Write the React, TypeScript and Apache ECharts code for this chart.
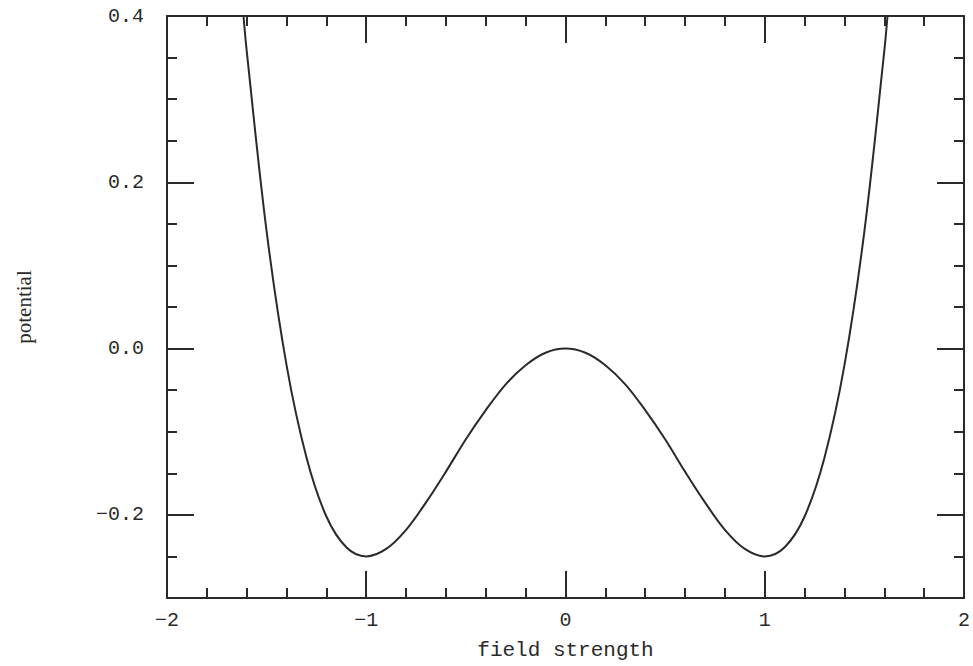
import React, { useEffect, useRef } from "react";
import * as echarts from "echarts";

const fieldStrength = [
  -1.616, -1.6, -1.5, -1.4, -1.3, -1.2, -1.1, -1.0, -0.9, -0.8, -0.7, -0.6, -0.5, -0.4, -0.3, -0.2, -0.1,
  0, 0.1, 0.2, 0.3, 0.4, 0.5, 0.6, 0.7, 0.8, 0.9, 1.0, 1.1, 1.2, 1.3, 1.4, 1.5, 1.6, 1.616,
];
const potential = [
  0.4, 0.358, 0.141, -0.02, -0.131, -0.202, -0.239, -0.25, -0.241, -0.218, -0.185, -0.148, -0.109, -0.074,
  -0.043, -0.02, -0.005, 0, -0.005, -0.02, -0.043, -0.074, -0.109, -0.148, -0.185, -0.218, -0.241, -0.25,
  -0.239, -0.202, -0.131, -0.02, 0.141, 0.358, 0.4,
];
const xTickLabels = ["−2", "−1", "0", "1", "2"];
const yMajorTicks = [-0.2, 0, 0.2, 0.4];
const yTickLabels = ["−0.2", "0.0", "0.2", "0.4"];

const MONO = "Liberation Mono";
const SERIF = "Liberation Serif";
const INK = "#2a2a2a";

export default function App() {
  const ref = useRef<HTMLDivElement>(null);
  useEffect(() => {
    if (!ref.current) return;
    const chart = echarts.init(ref.current, null, { renderer: "svg" });
    const fmtX = (v: number) => xTickLabels[Math.round(v) + 2] ?? "";
    const fmtY = (v: number) => {
      const i = yMajorTicks.findIndex((t) => Math.abs(t - v) < 1e-6);
      return i >= 0 ? yTickLabels[i] : "";
    };
    const axisLine = { show: true, onZero: false, lineStyle: { color: INK, width: 2 } };
    const noLine = { show: false, onZero: false };
    const majorTick = { show: true, inside: true, length: 27, lineStyle: { color: INK, width: 2 } };
    const smallTick = { show: true, inside: true, length: 10, lineStyle: { color: INK, width: 2 } };
    const xMinor = { show: true, splitNumber: 5, length: 10, lineStyle: { color: INK, width: 2 } };
    const yBase = { type: "value", min: -0.3, max: 0.4, interval: 0.05, splitLine: { show: false } };
    const xBase = { type: "value", min: -2, max: 2, interval: 1, splitLine: { show: false } };
    chart.setOption({
      animation: false,
      backgroundColor: "#ffffff",
      grid: { left: 167, top: 16, right: 5, bottom: 65, containLabel: false },
      xAxis: [
        {
          ...xBase, position: "bottom",
          axisLine, axisTick: majorTick, minorTick: xMinor,
          axisLabel: { formatter: fmtX, color: INK, fontFamily: MONO, fontSize: 20, margin: 12 },
          name: "field strength", nameLocation: "middle", nameGap: 42,
          nameTextStyle: { color: INK, fontFamily: MONO, fontSize: 21 },
        },
        {
          ...xBase, position: "top",
          axisLine, axisTick: majorTick, minorTick: xMinor,
          axisLabel: { show: false },
        },
      ],
      yAxis: [
        {
          ...yBase, position: "left",
          axisLine, axisTick: smallTick,
          axisLabel: {
            customValues: yMajorTicks, formatter: fmtY, color: INK, fontFamily: MONO, fontSize: 20, margin: 23,
          },
          name: "potential", nameLocation: "middle", nameGap: 133, nameRotate: 90,
          nameTextStyle: { color: INK, fontFamily: SERIF, fontSize: 21 },
        },
        {
          ...yBase, position: "left",
          axisLine: noLine, axisTick: { ...majorTick, customValues: yMajorTicks },
          axisLabel: { show: false },
        },
        {
          ...yBase, position: "right",
          axisLine, axisTick: smallTick, axisLabel: { show: false },
        },
        {
          ...yBase, position: "right",
          axisLine: noLine, axisTick: { ...majorTick, customValues: yMajorTicks },
          axisLabel: { show: false },
        },
      ],
      series: [
        {
          type: "line",
          xAxisIndex: 0,
          yAxisIndex: 0,
          data: fieldStrength.map((x, i) => [x, potential[i]]),
          smooth: 0.35,
          showSymbol: false,
          lineStyle: { color: INK, width: 2 },
          clip: true,
        },
      ],
    });
    return () => chart.dispose();
  }, []);
  return <div ref={ref} style={{ width: 973, height: 666, position: "absolute", left: 0, top: 0 }} />;
}
